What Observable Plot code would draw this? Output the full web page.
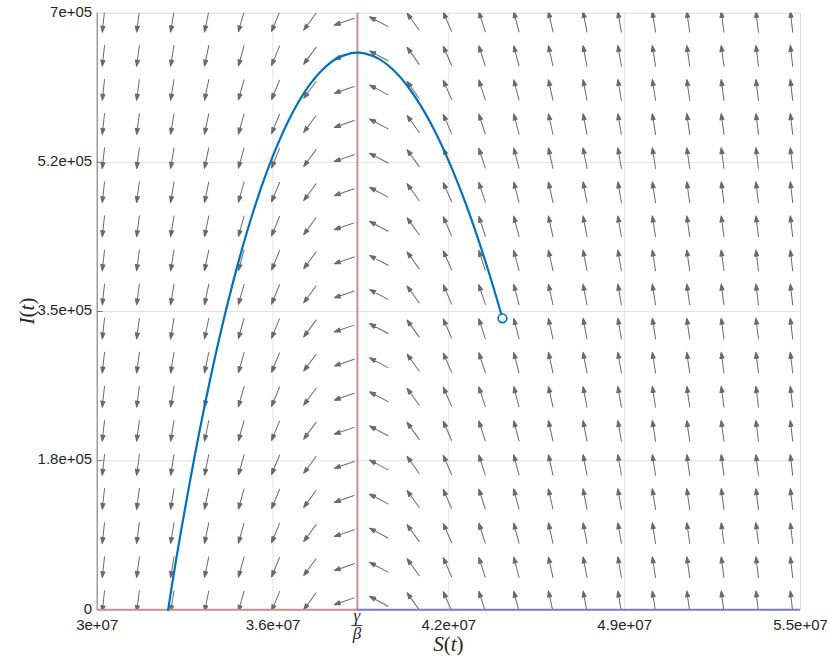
<!DOCTYPE html>
<html><head><meta charset="utf-8">
<script src="https://cdn.jsdelivr.net/npm/d3@7"></script>
<script src="https://cdn.jsdelivr.net/npm/@observablehq/plot@0.6"></script>
<style>body{margin:0;background:#fff}</style>
</head><body><div id="chart"></div>
<script>
// Axis ticks and labels
const xTicks = [3e7, 3.625e7, 4.25e7, 4.875e7, 5.5e7];
const xTickLabels = ["3e+07", "3.6e+07", "4.2e+07", "4.9e+07", "5.5e+07"];
const yTicks = [0, 1.75e5, 3.5e5, 5.25e5, 7e5];
const yTickLabels = ["0", "1.8e+05", "3.5e+05", "5.2e+05", "7e+05"];
const gammaOverBeta = 3.925e7;

// Direction field: column S positions, arrow direction per column (deg clockwise from up), row I positions
const fieldS = [3.022e7, 3.145e7, 3.267e7, 3.389e7, 3.512e7, 3.634e7, 3.756e7, 3.878e7, 4.001e7, 4.123e7, 4.245e7,
                4.368e7, 4.490e7, 4.612e7, 4.734e7, 4.857e7, 4.979e7, 5.101e7, 5.223e7, 5.346e7, 5.468e7];
const fieldAngle = [186.3, 187.6, 189.3, 191.8, 195.7, 202.4, 216.3, 251, 298, 324.5, 336.4,
                    342.0, 345.3, 347.5, 349.1, 350.2, 351.1, 351.9, 352.4, 352.9, 353.3];
const fieldI = [1e4, 5e4, 9e4, 1.3e5, 1.7e5, 2.1e5, 2.5e5, 2.9e5, 3.3e5, 3.7e5, 4.1e5, 4.5e5, 4.9e5,
                5.3e5, 5.7e5, 6.1e5, 6.5e5, 6.9e5];

// Trajectory S(t), I(t)
const trajS = [4.4407e7, 4.40e7, 4.35e7, 4.30e7, 4.25e7, 4.20e7, 4.15e7, 4.10e7, 4.05e7, 4.00e7, 3.95e7, 3.925e7,
               3.90e7, 3.85e7, 3.80e7, 3.75e7, 3.70e7, 3.65e7, 3.60e7, 3.55e7, 3.50e7, 3.45e7, 3.40e7, 3.35e7,
               3.30e7, 3.275e7, 3.2521e7];
const trajI = [3.42e5, 3.876e5, 4.391e5, 4.853e5, 5.262e5, 5.617e5, 5.916e5, 6.158e5, 6.342e5, 6.467e5, 6.529e5, 6.538e5,
               6.529e5, 6.465e5, 6.334e5, 6.136e5, 5.867e5, 5.526e5, 5.113e5, 4.623e5, 4.056e5, 3.408e5, 2.678e5, 1.863e5,
               9.61e4, 4.76e4, 0];
const startS = [4.4407e7];
const startI = [3.42e5];

// Build tables
const field = [];
fieldS.forEach((s, c) => fieldI.forEach(i => field.push({S: s, I: i, angle: fieldAngle[c]})));
const traj = trajS.map((s, k) => ({S: s, I: trajI[k]}));
const start = startS.map((s, k) => ({S: s, I: startI[k]}));
const xLab = new Map(xTicks.map((t, k) => [t, xTickLabels[k]]));
const yLab = new Map(yTicks.map((t, k) => [t, yTickLabels[k]]));

const quiverShape = {
  draw(ctx, l) {
    ctx.moveTo(0, 0);
    ctx.lineTo(0, -l + 2);
    ctx.moveTo(0, -l);
    ctx.lineTo(-2.1, -l + 6);
    ctx.lineTo(2.1, -l + 6);
    ctx.closePath();
  }
};
const tickShape = {draw(ctx, l) { ctx.moveTo(0, 0); ctx.lineTo(0, -l); }};

const plot = Plot.plot({
  width: 827, height: 657,
  marginLeft: 96.7, marginRight: 27, marginTop: 12.7, marginBottom: 47.7,
  x: {domain: [3e7, 5.5e7]},
  y: {domain: [0, 7e5]},
  style: {fontFamily: "'Liberation Sans', Arial, sans-serif", fontSize: "15px", color: "#262626", background: "#fff"},
  marks: [
    Plot.gridX(xTicks.slice(1, -1), {stroke: "#e3e3e3", strokeOpacity: 1}),
    Plot.gridY(yTicks.slice(1, -1), {stroke: "#e3e3e3", strokeOpacity: 1}),
    Plot.frame({stroke: "#dadada"}),
    Plot.ruleX([3e7], {stroke: "#7a7a7a", strokeWidth: 1}),
    Plot.vector(yTicks.slice(1, -1), {x: () => 3e7, y: d => d, rotate: 90, length: 5, anchor: "start", shape: tickShape, stroke: "#7a7a7a", strokeWidth: 1}),
    Plot.vector(field, {x: "S", y: "I", rotate: "angle", length: 21, anchor: "middle", shape: quiverShape,
      stroke: "#6a6a6a", fill: "#6a6a6a", strokeWidth: 1, clip: true}),
    Plot.ruleX([gammaOverBeta], {y1: 0, y2: 7e5, stroke: "#c29191", strokeWidth: 2}),
    Plot.ruleY([0], {x1: 3e7, x2: gammaOverBeta, stroke: "#c29191", strokeWidth: 2}),
    Plot.ruleY([0], {x1: gammaOverBeta, x2: 5.5e7, stroke: "#7b7bcf", strokeWidth: 2}),
    Plot.line(traj, {x: "S", y: "I", stroke: "#0072BD", strokeWidth: 2.2, curve: "catmull-rom"}),
    Plot.dot(start, {x: "S", y: "I", r: 4.3, fill: "#fff", stroke: "#0072BD", strokeWidth: 1.7}),
    Plot.axisX(xTicks, {tickSize: 0, tickPadding: 10, tickFormat: d => xLab.get(d), label: null, fontSize: 15}),
    Plot.axisY(yTicks, {tickSize: 0, tickPadding: 5, tickFormat: d => yLab.get(d), label: null, fontSize: 15, dy: -1})
  ]
});
document.getElementById("chart").appendChild(plot);

// Math-style labels
const svg = d3.select(plot);
const xs = plot.scale("x");
const gx = xs.apply(gammaOverBeta);
const serif = "'Liberation Serif', 'DejaVu Serif', serif";
const g = svg.append("g").attr("font-family", serif).attr("fill", "#262626");
g.append("text").attr("x", gx).attr("y", 620.5).attr("text-anchor", "middle").attr("font-size", 17).attr("font-style", "italic").text("γ");
g.append("line").attr("x1", gx - 5.5).attr("x2", gx + 5.5).attr("y1", 625.5).attr("y2", 625.5).attr("stroke", "#262626").attr("stroke-width", 0.9);
g.append("text").attr("x", gx).attr("y", 638.5).attr("text-anchor", "middle").attr("font-size", 17).attr("font-style", "italic").text("β");

const sl = g.append("text").attr("x", (xs.apply(3e7) + xs.apply(5.5e7)) / 2).attr("y", 651).attr("text-anchor", "middle").attr("font-size", 21);
sl.append("tspan").attr("font-style", "italic").text("S");
sl.append("tspan").text("(");
sl.append("tspan").attr("font-style", "italic").text("t");
sl.append("tspan").text(")");

const il = g.append("text").attr("transform", "translate(34,311) rotate(-90)").attr("text-anchor", "middle").attr("font-size", 21);
il.append("tspan").attr("font-style", "italic").text("I");
il.append("tspan").text("(");
il.append("tspan").attr("font-style", "italic").text("t");
il.append("tspan").text(")");
</script>
</body></html>
